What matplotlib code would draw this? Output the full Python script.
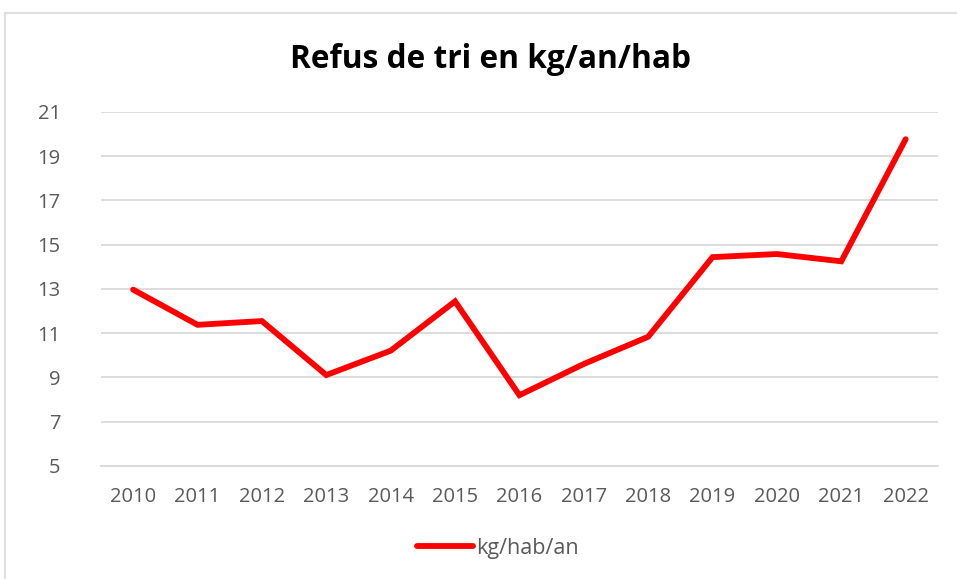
import matplotlib.pyplot as plt
from matplotlib.lines import Line2D

years = ['2010', '2011', '2012', '2013', '2014', '2015', '2016',
         '2017', '2018', '2019', '2020', '2021', '2022']
refus = [12.97, 11.38, 11.55, 9.11, 10.21, 12.44, 8.2,
         9.61, 10.84, 14.44, 14.58, 14.25, 19.77]
yticks = [5, 7, 9, 11, 13, 15, 17, 19, 21]

plt.rcParams['font.family'] = ['Open Sans', 'DejaVu Sans']

fig = plt.figure(figsize=(9.57, 5.79), dpi=100)
ax = fig.add_axes([0.1055, 0.1952, 0.8745, 0.6114])

x = range(len(years))
ax.plot(x, refus, color='#ff0000', lw=4.2, solid_capstyle='round',
        solid_joinstyle='miter', label='kg/hab/an', zorder=3)

ax.set_xlim(-0.5, len(years) - 0.5)
ax.set_ylim(5, 21)
ax.set_yticks(yticks)
ax.set_xticks(list(x))
ax.set_xticklabels(years)
ax.tick_params(length=0, labelsize=14.5, colors='#595959')
ax.tick_params(axis='x', pad=15)
ax.tick_params(axis='y', pad=29)
ax.yaxis.grid(True, color='#d9d9d9', lw=1.3)
ax.set_axisbelow(True)
for s in ['top', 'right', 'left']:
    ax.spines[s].set_visible(False)
ax.spines['bottom'].set_color('#d9d9d9')
ax.spines['bottom'].set_linewidth(1.3)

fig.text(0.513, 0.898, 'Refus de tri en kg/an/hab', ha='center', va='center',
         fontsize=22.8, fontweight='bold', color='black')

ax.legend(loc='center', bbox_to_anchor=(0.52, 0.0535), bbox_transform=fig.transFigure,
          frameon=False, fontsize=15.5, labelcolor='#595959',
          handlelength=2.6, handletextpad=0.15)

# chart border
fig.add_artist(Line2D([5 / 957, 1], [1 - 13 / 579, 1 - 13 / 579], color='#d9d9d9', lw=1.2))
fig.add_artist(Line2D([5 / 957, 5 / 957], [0, 1 - 13 / 579], color='#d9d9d9', lw=1.2))

fig.savefig('out.png', dpi=100)
